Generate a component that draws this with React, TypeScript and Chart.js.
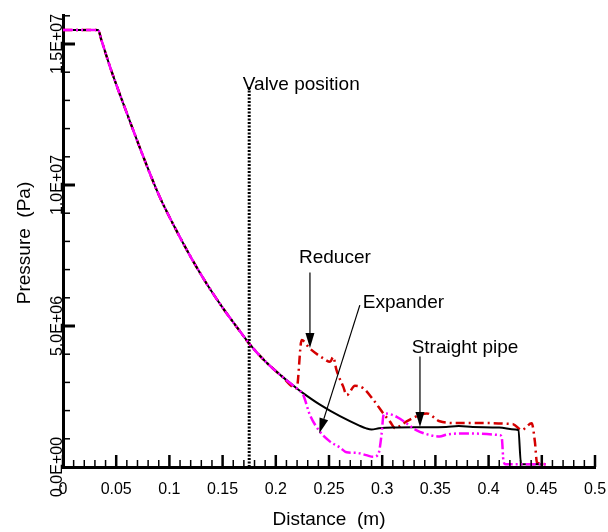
import React, { useEffect, useRef } from 'react';
import { Chart, registerables } from 'chart.js';

Chart.register(...registerables);

const FONT = '"Liberation Sans", Arial, Helvetica, sans-serif';

// Axis ranges and tick steps
const xMin = 0;
const xMax = 0.5;
const yMin = 0;
const yMax = 1.6e7;
const xStep = 0.01;
const yStep = 1e6;
const xMajorEvery = 0.05;
const yMajorEvery = 5e6;

// Shared expansion-wave part (Distance m, Pressure Pa)
const sharedX = [0, 0.033, 0.036, 0.045, 0.06, 0.075, 0.09, 0.105, 0.12, 0.135, 0.15, 0.165, 0.176, 0.19, 0.205, 0.2196];
const sharedY = [15.5e6, 15.5e6, 15.15e6, 14.1e6, 12.55e6, 11.05e6, 9.65e6, 8.5e6, 7.45e6, 6.5e6, 5.65e6, 4.88e6, 4.33e6, 3.75e6, 3.24e6, 2.79e6];

// Straight pipe tail
const straightX = [0.2227, 0.2415, 0.2603, 0.279, 0.285, 0.29, 0.297, 0.31, 0.335, 0.36, 0.372, 0.385, 0.41, 0.425, 0.428, 0.4305, 0.45];
const straightY = [2.7e6, 2.21e6, 1.8e6, 1.46e6, 1.37e6, 1.33e6, 1.37e6, 1.4e6, 1.41e6, 1.42e6, 1.45e6, 1.42e6, 1.4e6, 1.33e6, 1.3e6, 0.1e6, 0.1e6];

// Reducer tail
const reducerX = [0.2243, 0.232, 0.2447, 0.251, 0.254, 0.257, 0.2634, 0.2667, 0.2744, 0.282, 0.2917, 0.301, 0.3075, 0.312, 0.323, 0.3355, 0.342, 0.354, 0.37, 0.385, 0.423, 0.431, 0.4405, 0.4435, 0.4455, 0.455];
const reducerY = [4.5e6, 4.2e6, 3.85e6, 3.73e6, 3.9e6, 3.44e6, 2.85e6, 2.55e6, 2.88e6, 2.8e6, 2.38e6, 1.9e6, 1.6e6, 1.38e6, 1.62e6, 1.85e6, 1.9e6, 1.62e6, 1.56e6, 1.56e6, 1.52e6, 1.31e6, 1.55e6, 0.9e6, 0.15e6, 0.1e6];

// Expander tail
const expanderX = [0.2227, 0.2258, 0.232, 0.2415, 0.251, 0.26, 0.2666, 0.276, 0.285, 0.2917, 0.2963, 0.2995, 0.301, 0.3026, 0.3136, 0.332, 0.345, 0.354, 0.3606, 0.379, 0.4107, 0.4125, 0.414, 0.416, 0.455];
const expanderY = [2.7e6, 2.55e6, 1.85e6, 1.25e6, 0.9e6, 0.7e6, 0.52e6, 0.5e6, 0.42e6, 0.36e6, 0.45e6, 1.19e6, 1.8e6, 1.9e6, 1.78e6, 1.31e6, 1.13e6, 1.08e6, 1.15e6, 1.19e6, 1.13e6, 1.0e6, 0.2e6, 0.1e6, 0.1e6];

// Valve position marker
const valveX = [0.175, 0.175];
const valveY = [0, 13.5e6];

// Annotations (data coordinates)
const labels = [
  { text: 'Valve position', x: 0.169, y: 13.36e6 },
  { text: 'Reducer', x: 0.2218, y: 7.23e6 },
  { text: 'Expander', x: 0.2817, y: 5.65e6 },
  { text: 'Straight pipe', x: 0.3277, y: 4.06e6 },
];
const arrows = [
  { x1: 0.2321, y1: 6.9e6, x2: 0.2321, y2: 4.22e6 },
  { x1: 0.279, y1: 5.74e6, x2: 0.2409, y2: 1.2e6 },
  { x1: 0.3355, y1: 3.92e6, x2: 0.3355, y2: 1.42e6 },
];

const pts = (xs: number[], ys: number[]) => xs.map((x, i) => ({ x, y: ys[i] }));

const isMultiple = (v: number, step: number) => Math.abs(v / step - Math.round(v / step)) < 1e-6;

const fmtX = (v: number) => (Math.abs(v) < 1e-12 ? '0' : String(Number(v.toFixed(2))));
const fmtY = (v: number) => {
  const s = v.toExponential(1);
  const [m, e] = s.split('e');
  const sign = e[0] === '-' ? '-' : '+';
  const digits = e.replace(/[+-]/, '').padStart(2, '0');
  return `${m}E${sign}${digits}`;
};

const decorPlugin = {
  id: 'decor',
  afterDraw(chart: any) {
    const { ctx, chartArea, scales } = chart;
    const xs = scales.x;
    const ys = scales.y;
    ctx.save();
    ctx.strokeStyle = '#000';
    ctx.fillStyle = '#000';
    ctx.lineCap = 'butt';

    // x ticks (inside) + labels
    ctx.font = `16px ${FONT}`;
    ctx.textAlign = 'center';
    ctx.textBaseline = 'alphabetic';
    xs.ticks.forEach((t: any) => {
      const v = t.value;
      const px = xs.getPixelForValue(v);
      const major = isMultiple(v, xMajorEvery);
      ctx.lineWidth = major ? 2.5 : 1.5;
      const len = major ? 12 : 7;
      ctx.beginPath();
      ctx.moveTo(px, chartArea.bottom);
      ctx.lineTo(px, chartArea.bottom - len);
      ctx.stroke();
      if (major) ctx.fillText(fmtX(v), px, chartArea.bottom + 27);
    });

    // y ticks (inside) + rotated labels
    ys.ticks.forEach((t: any) => {
      const v = t.value;
      const py = ys.getPixelForValue(v);
      const major = isMultiple(v, yMajorEvery);
      ctx.lineWidth = major ? 3 : 1.5;
      const len = major ? 12 : 7;
      if (v > 0) {
        ctx.beginPath();
        ctx.moveTo(chartArea.left, py);
        ctx.lineTo(chartArea.left + len, py);
        ctx.stroke();
      }
      if (major) {
        ctx.save();
        ctx.translate(chartArea.left - 1, py);
        ctx.rotate(-Math.PI / 2);
        ctx.textAlign = 'center';
        ctx.fillText(fmtY(v), 0, 0);
        ctx.restore();
      }
    });

    // axis titles
    ctx.font = `19px ${FONT}`;
    ctx.textAlign = 'center';
    ctx.fillText('Distance  (m)', (chartArea.left + chartArea.right) / 2, 525);
    ctx.save();
    ctx.translate(30, 243);
    ctx.rotate(-Math.PI / 2);
    ctx.fillText('Pressure  (Pa)', 0, 0);
    ctx.restore();

    // annotations
    ctx.textAlign = 'left';
    labels.forEach((l) => {
      ctx.fillText(l.text, xs.getPixelForValue(l.x), ys.getPixelForValue(l.y));
    });
    arrows.forEach((a) => {
      const x1 = xs.getPixelForValue(a.x1);
      const y1 = ys.getPixelForValue(a.y1);
      const x2 = xs.getPixelForValue(a.x2);
      const y2 = ys.getPixelForValue(a.y2);
      const ang = Math.atan2(y2 - y1, x2 - x1);
      const hl = 15;
      const hw = 4.5;
      const bx = x2 - hl * Math.cos(ang);
      const by = y2 - hl * Math.sin(ang);
      ctx.lineWidth = 1.2;
      ctx.beginPath();
      ctx.moveTo(x1, y1);
      ctx.lineTo(bx, by);
      ctx.stroke();
      ctx.beginPath();
      ctx.moveTo(x2, y2);
      ctx.lineTo(bx + hw * Math.sin(ang), by - hw * Math.cos(ang));
      ctx.lineTo(bx - hw * Math.sin(ang), by + hw * Math.cos(ang));
      ctx.closePath();
      ctx.fill();
    });
    ctx.restore();
  },
};

export default function App() {
  const ref = useRef<HTMLCanvasElement | null>(null);

  useEffect(() => {
    if (!ref.current) return;
    const chart = new Chart(ref.current, {
      type: 'line',
      data: {
        datasets: [
          {
            label: 'Expander',
            data: pts([...sharedX, ...expanderX], [...sharedY, ...expanderY]),
            borderColor: '#ff00ff',
            borderWidth: 2.5,
            borderDash: [10, 3, 2, 3, 2, 3],
            pointRadius: 0,
            cubicInterpolationMode: 'monotone',
          },
          {
            label: 'Straight pipe',
            data: pts([...sharedX, ...straightX], [...sharedY, ...straightY]),
            borderColor: '#000000',
            borderWidth: 2,
            pointRadius: 0,
            cubicInterpolationMode: 'monotone',
          },
          {
            label: 'Reducer',
            data: pts([...sharedX, ...reducerX], [...sharedY, ...reducerY]),
            borderColor: '#d40000',
            borderWidth: 2.5,
            borderDash: [9, 4, 2, 4],
            pointRadius: 0,
            cubicInterpolationMode: 'monotone',
          },
          {
            label: 'Valve position',
            data: pts(valveX, valveY),
            borderColor: '#000000',
            borderWidth: 3,
            borderDash: [2, 1.5],
            pointRadius: 0,
            tension: 0,
          },
        ],
      },
      options: {
        responsive: false,
        animation: false,
        devicePixelRatio: 1,
        layout: { padding: { top: 15.8, right: 13, left: 0, bottom: 0 } },
        plugins: {
          legend: { display: false },
          tooltip: { enabled: false },
          title: { display: false },
        },
        scales: {
          x: {
            type: 'linear',
            min: xMin,
            max: xMax,
            ticks: { stepSize: xStep, display: false },
            grid: { display: false },
            border: { display: true, color: '#000', width: 3 },
            afterFit: (s: any) => {
              s.height = 65;
            },
          },
          y: {
            type: 'linear',
            min: yMin,
            max: yMax,
            ticks: { stepSize: yStep, display: false },
            grid: { display: false },
            border: { display: true, color: '#000', width: 3 },
            afterFit: (s: any) => {
              s.width = 63;
            },
          },
        },
      },
      plugins: [decorPlugin],
    });
    return () => chart.destroy();
  }, []);

  return (
    <div style={{ position: 'fixed', left: 0, top: 0, width: 608, height: 532, background: '#fff' }}>
      <canvas ref={ref} width={608} height={532} />
    </div>
  );
}
